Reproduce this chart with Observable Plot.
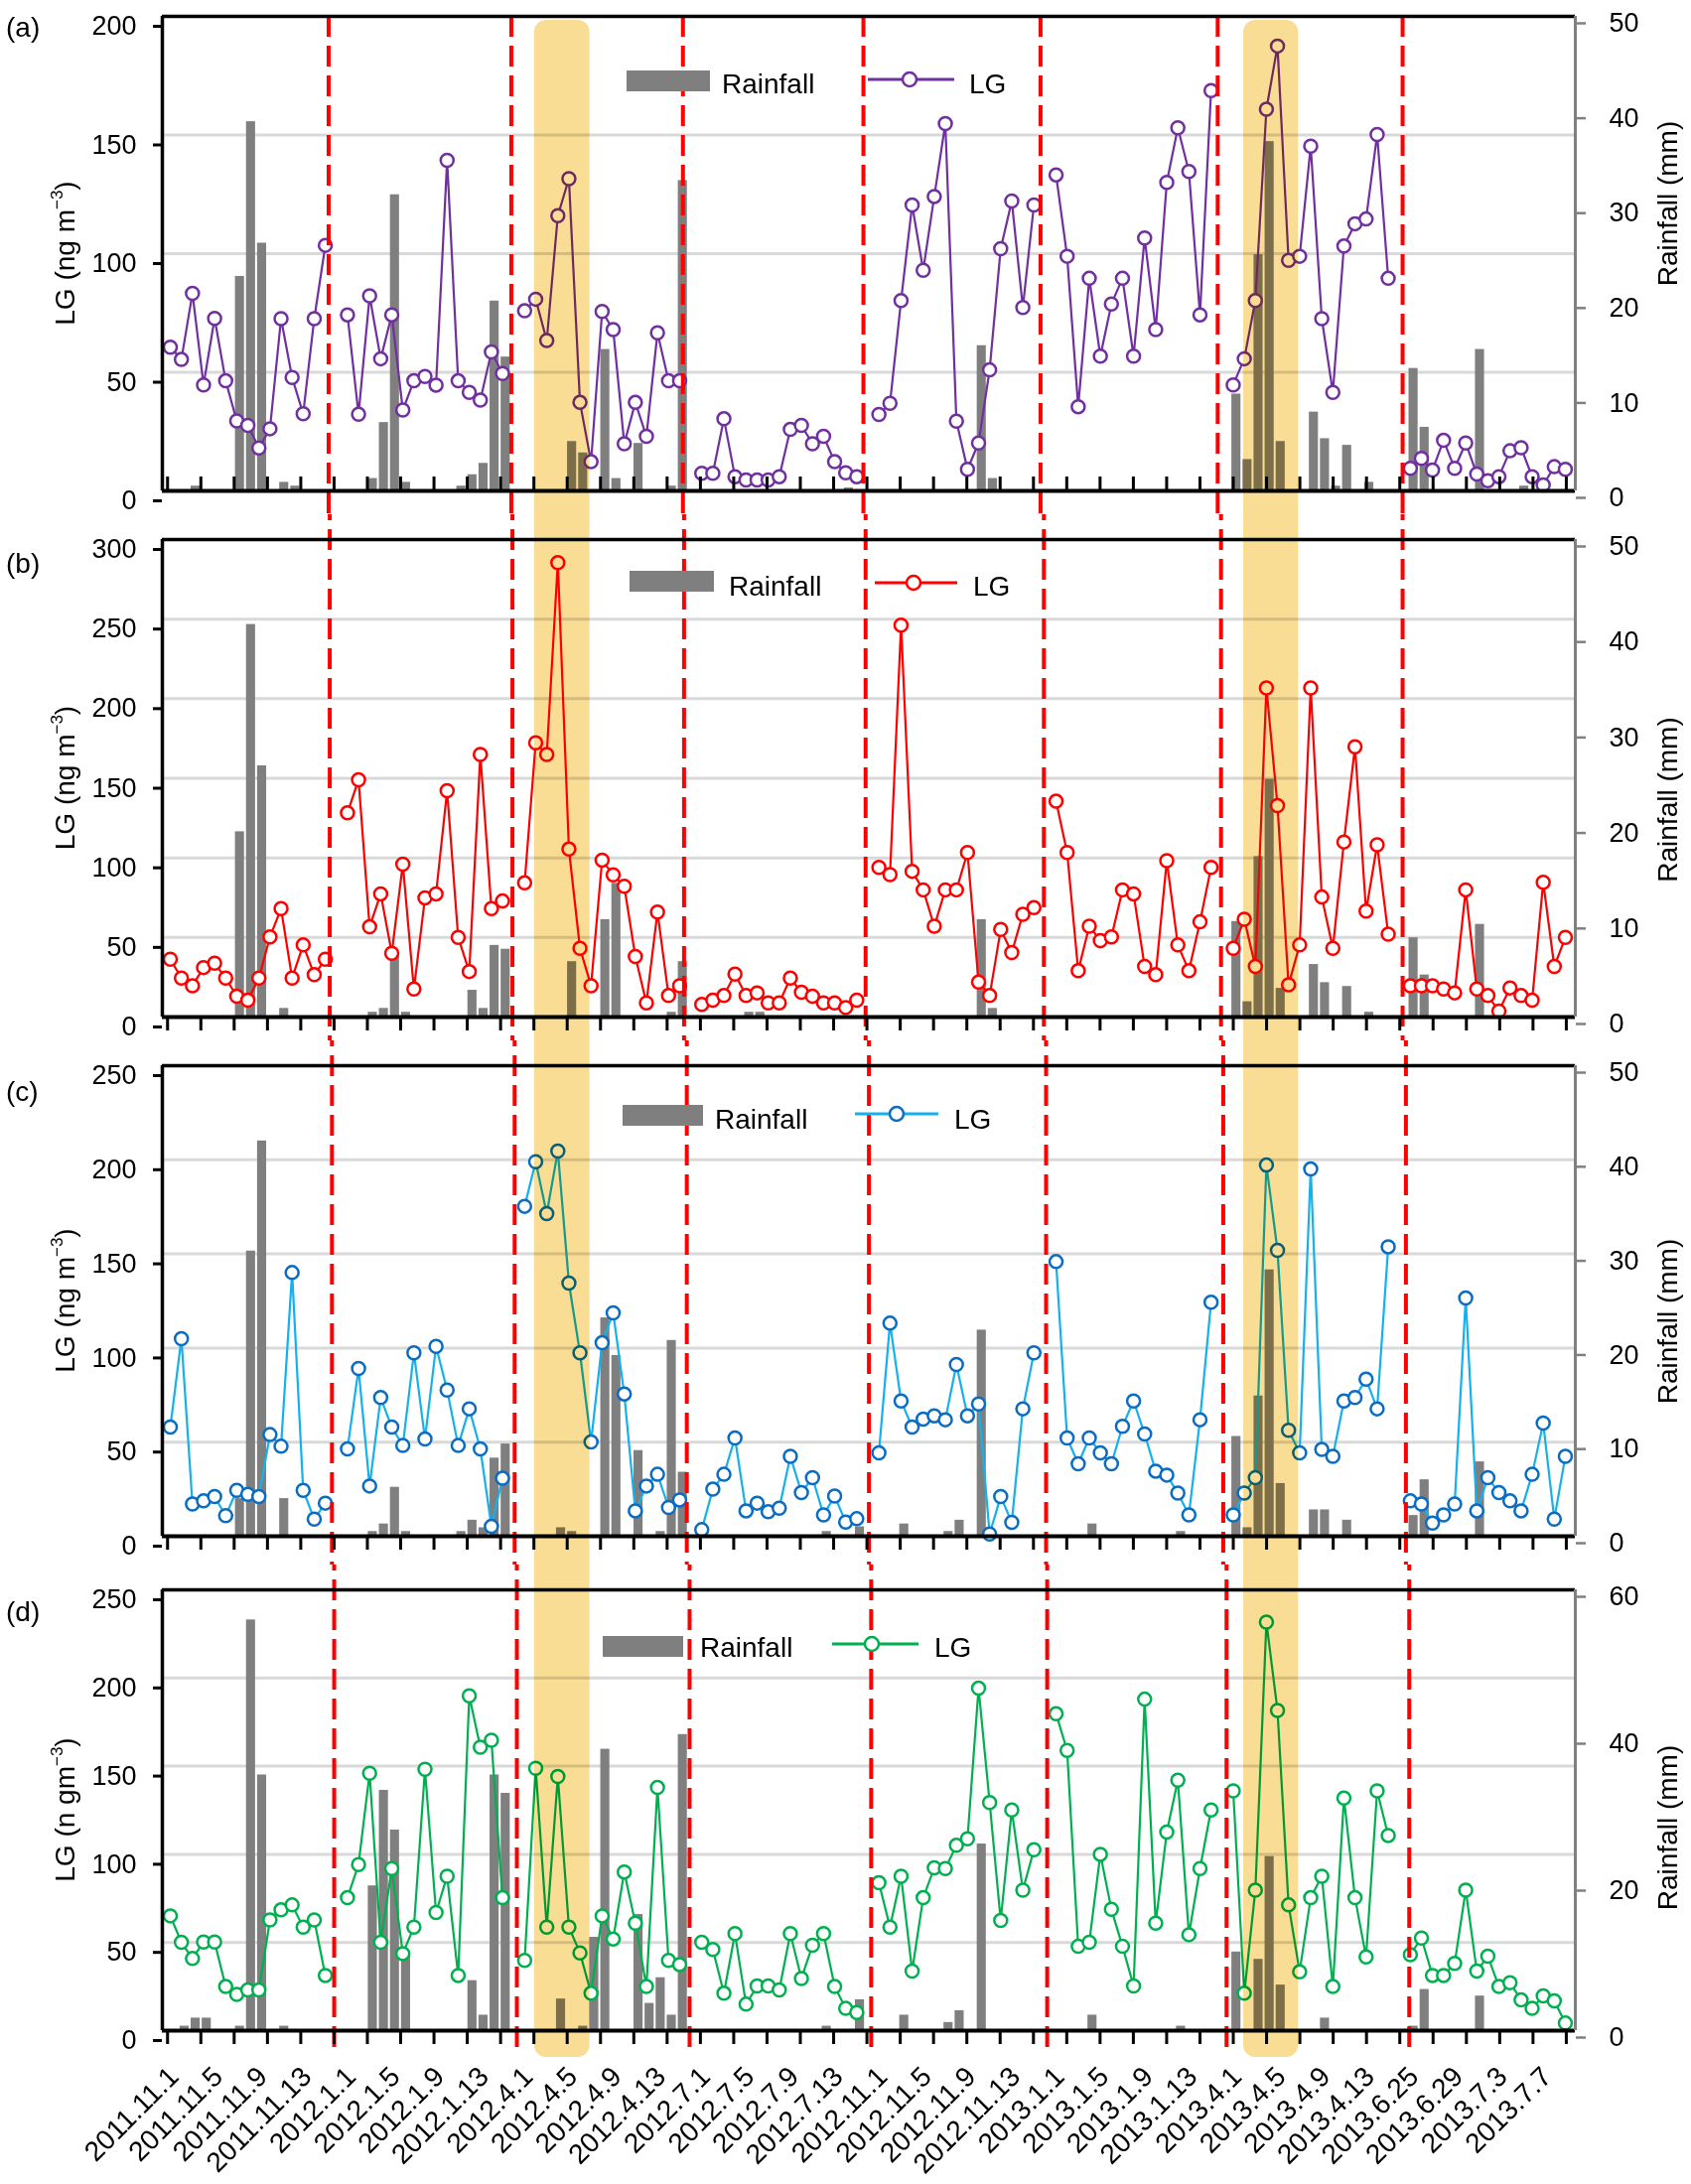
<!DOCTYPE html>
<html>
<head>
<meta charset="utf-8">
<script src="https://cdn.jsdelivr.net/npm/d3@7"></script>
<script src="https://cdn.jsdelivr.net/npm/@observablehq/plot@0.6"></script>
<style>
  html, body { margin: 0; padding: 0; background: #fff; overflow: hidden; }
  #fig { width: 1703px; }
  #fig svg { display: block; }
</style>
</head>
<body>
<div id="fig"></div>
<script>
const FONT = '"Liberation Sans", Arial, Helvetica, sans-serif';

// x-axis labels (every 4th sampling day)
const dateLabels = ["2011.11.1","2011.11.5","2011.11.9","2011.11.13","2012.1.1","2012.1.5","2012.1.9","2012.1.13",
  "2012.4.1","2012.4.5","2012.4.9","2012.4.13","2012.7.1","2012.7.5","2012.7.9","2012.7.13",
  "2012.11.1","2012.11.5","2012.11.9","2012.11.13","2013.1.1","2013.1.5","2013.1.9","2013.1.13",
  "2013.4.1","2013.4.5","2013.4.9","2013.4.13","2013.6.25","2013.6.29","2013.7.3","2013.7.7"];

// LG (8 sampling periods x 15 days)
const lgA = [
  [60.6,55.4,83.3,44.7,72.7,46.4,29.5,27.6,18.1,26.2,72.6,47.8,32.5,72.6,103.5],
  [74.2,32.3,82.2,55.7,74.2,34.1,46.4,48.2,44.6,139.3,46.4,41.5,38.3,58.6,49.5],
  [75.9,80.8,63.4,116.0,131.6,37.3,12.3,75.6,68.0,19.9,37.3,23.0,66.6,46.4,46.4],
  [7.4,7.4,30.4,6.0,4.6,4.6,4.6,6.0,25.9,27.6,19.9,23.0,12.3,7.6,6.0],
  [32.2,36.9,80.2,120.5,93.0,124.1,154.8,29.4,9.1,20.2,51.0,102.1,122.2,77.3,120.5],
  [133.2,98.9,35.5,89.6,56.8,78.8,89.6,56.8,106.6,68.0,130.0,153.0,134.6,74.2,168.7],
  [44.7,55.7,80.2,160.9,187.5,97.2,98.9,145.3,72.6,41.5,103.2,112.6,114.6,150.2,89.6],
  [9.5,13.7,8.8,21.3,9.5,20.2,7.1,4.3,6.0,16.9,18.2,6.0,2.5,10.2,9.1]
];
const lgB = [
  [36.3,24.5,19.7,31.1,33.8,24.5,13.1,10.6,24.5,50.4,68.1,24.5,45.3,26.6,36.3],
  [128.3,149.1,56.7,77.4,40.1,96.1,17.6,74.9,77.4,142.2,50.0,28.6,165.0,68.1,72.9],
  [84.3,172.3,165.0,285.5,105.5,43.2,19.7,98.6,89.3,82.2,38.0,8.9,66.0,13.5,19.7],
  [7.9,10.6,13.5,27.0,13.5,15.2,8.9,8.9,24.5,15.6,13.1,8.9,8.9,6.0,10.6],
  [94.0,89.5,246.2,91.6,79.9,57.1,79.9,79.9,103.4,22.0,13.5,55.0,40.5,64.6,68.7],
  [135.6,103.4,29.1,57.1,48.0,50.4,79.9,77.4,31.8,26.6,98.2,45.3,29.1,59.8,94.0],
  [43.2,61.4,31.8,206.8,132.9,20.3,45.3,206.8,75.4,43.2,110.0,169.8,66.6,108.2,52.1],
  [19.7,19.7,19.7,17.6,15.2,79.9,17.6,13.5,3.7,18.3,13.5,10.6,84.7,31.8,50.0]
];
const lgC = [
  [58.0,105.0,17.1,18.8,21.1,10.9,24.4,22.3,21.1,54.0,47.8,140.1,24.4,9.1,17.6],
  [46.4,89.1,26.7,73.7,58.0,48.2,97.4,51.7,100.9,77.7,48.2,67.7,46.4,5.3,30.8],
  [175.3,199.0,171.4,204.6,134.5,97.4,50.1,102.8,118.7,75.6,13.5,26.7,32.9,15.3,19.3],
  [3.5,25.0,32.9,52.2,13.5,17.6,13.0,14.9,42.5,23.2,31.1,11.3,21.4,7.5,9.3],
  [44.3,113.2,71.9,58.0,62.2,64.0,61.9,91.2,64.0,70.3,1.2,21.1,7.4,67.7,97.4],
  [145.9,52.2,38.5,52.2,44.3,38.5,58.4,71.9,54.3,34.6,32.5,22.9,11.3,61.9,124.3],
  [11.3,22.9,31.1,197.2,151.9,56.3,44.3,195.1,46.1,42.5,71.9,73.7,83.5,67.7,153.8],
  [18.8,17.1,7.0,11.3,17.1,126.6,13.5,31.1,23.2,18.8,13.5,32.9,60.1,9.1,42.5]
];
const lgD = [
  [65.1,50.1,40.9,50.3,50.3,25.0,20.6,23.1,23.1,62.8,68.5,71.3,58.7,62.8,31.3],
  [75.4,94.2,146.0,50.1,91.9,43.7,58.7,148.2,67.0,87.6,31.3,189.9,160.8,164.7,75.4],
  [39.8,148.8,58.7,144.1,58.7,44.1,21.2,65.1,52.0,90.0,61.0,25.0,137.9,39.8,37.5],
  [50.1,46.0,21.2,55.0,15.0,25.3,25.3,23.1,55.0,29.6,48.4,55.0,25.0,12.6,10.3],
  [83.9,58.7,87.6,33.8,75.4,92.3,91.9,105.1,108.8,194.2,129.4,62.5,125.1,79.7,102.6],
  [179.7,158.9,47.8,50.1,100.0,68.8,47.8,25.3,188.0,61.0,112.6,142.0,54.4,91.9,125.1],
  [136.0,21.2,79.7,231.7,181.6,71.3,33.4,75.4,87.6,25.0,131.9,75.4,41.8,136.0,110.7],
  [43.1,52.5,31.3,31.3,38.1,79.7,33.8,42.2,25.0,27.2,17.4,12.6,19.7,16.9,4.3]
];

// Rainfall (mm), same layout
const rainA = [
  [0,0,0.5,0,0,0,22.6,38.9,26.1,0,0.9,0.5,0,0,0],
  [0,0,1.3,7.2,31.2,0.9,0,0,0,0,0.5,1.7,2.9,20.0,14.1],
  [0,0,0,0,5.2,4.0,0,14.9,1.3,0,5.0,0,0,0.5,32.7],
  [0,0,0,0,0,0,0,0,0,0,0,0,0,0.3,0],
  [0,0,0,0,0,0,0,0,0,15.3,1.3,0,0,0,0],
  [0,0,0,0,0,0,0,0,0,0,0,0,0,0,0],
  [10.2,3.3,24.9,36.8,5.2,0,0,8.3,5.5,0.5,4.8,0,0.9,0,0],
  [12.9,6.7,0,0,0,0,14.9,0,0,0,0.5,0,0,0,0]
];
const rainB = [
  [0,0,0,0,0,0,19.4,41.1,26.3,0,0.9,0,0,0,0],
  [0,0,0.5,0.9,6.4,0.5,0,0,0,0,0,2.8,0.9,7.5,7.1],
  [0,0,0,0,5.8,0,0,10.2,14.0,0,0,0,0,0.5,5.8],
  [0,0,0,0,0.5,0.5,0,0,0,0,0,0,0,0,0],
  [0,0,0,0,0,0,0,0,0,10.2,0.9,0,0,0,0],
  [0,0,0,0,0,0,0,0,0,0,0,0,0,0,0],
  [10.0,1.6,16.8,24.9,3.0,0,0,5.5,3.6,0,3.2,0,0.5,0,0],
  [8.3,4.4,0,0,0,0,9.7,0,0,0,0,0,0,0,0]
];
const rainC = [
  [0,0,0,0,0,0,4.0,30.3,42.0,0,4.0,0,0,0,0],
  [0,0,0.5,1.3,5.2,0.5,0,0,0,0,0.5,1.7,0.9,8.3,9.8],
  [0,0,0,0.9,0.5,0,0,23.2,19.2,0,9.1,0,0.5,20.8,6.8],
  [0,0,0,0,0,0,0,0,0,0,0,0.5,0,0,1.0],
  [0,0,1.3,0,0,0,0.5,1.7,0,21.9,0,0,0,0,0],
  [0,0,0,1.3,0,0,0,0,0,0,0,0.5,0,0,0],
  [10.6,0.9,14.9,28.3,5.6,0,0,2.8,2.8,0,1.7,0,0,0,0],
  [2.2,6.0,0,0,0,0,7.9,0,0,0,0,0,0,0,0]
];
const rainD = [
  [0,0.6,1.7,1.7,0,0,0.6,55.9,34.8,0,0.6,0,0,0,0],
  [0,0,19.7,32.7,27.3,10.0,0,0,0,0,0,6.8,2.1,34.8,32.3],
  [0,0,0,4.3,0,0.6,12.7,38.3,0,0,15.8,3.7,7.2,2.1,40.3],
  [0,0,0,0,0,0,0,0,0,0,0,0.6,0,0,4.2],
  [0,0,2.1,0,0,0,1.1,2.7,0,25.4,0,0,0,0,0],
  [0,0,0,2.1,0,0,0,0,0,0,0,0.6,0,0,0],
  [10.7,0,9.7,23.7,6.2,0,0,0,1.7,0,0,0,0,0,0],
  [0.6,5.6,0,0,0,0,4.7,0,0,0,0,0,0,0,0]
];

// period separators (day-slot units, slightly slanted through the figure)
const sepA = [14.3,30.8,46.3,62.6,78.6,94.6,111.3];
const sepB = [14.4,30.9,46.4,62.8,78.9,94.9,111.3];
const sepC = [14.6,31.1,46.65,63.1,79.1,95.1,111.6];
const sepD = [14.8,31.3,46.9,63.3,79.2,95.4,111.9];
// highlighted events
const highlight = [{x1: 32.9, x2: 37.9}, {x1: 96.95, x2: 101.9}];

const XDOM = [-0.72, 126.9];
const xTickSlots = d3.range(43).map(k => -0.25 + 3.008 * k);

const panels = [
  {tag: "(a)", lg: lgA, rain: rainA, sep: sepA, lgMax: 200, rainMax: 50, lgTicks: [0,50,100,150,200], rainTicks: [0,10,20,30,40,50], grid: [50,100,150],
   line: "#7030a0", marker: "#7030a0", unit: "LG (ng m",
   height: 518, mt: 16, mb: 24, labelDy: 11, rtDy: -50, ticksInside: true,
   sepTop: 0, sepBottom: -40, bandTop: 4, bandBottom: -80,
   L: {sx: 631, sw: 84, sy: 71, tx: 727, ty: 84, lx1: 874, lx2: 961, ly: 80, mx: 916, lgx: 976}},
  {tag: "(b)", lg: lgB, rain: rainB, sep: sepB, lgMax: 300, rainMax: 50, lgTicks: [0,50,100,150,200,250,300], rainTicks: [0,10,20,30,40,50], grid: [50,100,150,200,250],
   line: "#ff0000", marker: "#ff0000", unit: "LG (ng m",
   height: 530, mt: 25, mb: 24, labelDy: 24, rtDy: 22, ticksInside: false,
   sepTop: -40, sepBottom: -40, bandTop: -80, bandBottom: -80,
   L: {sx: 634, sw: 85, sy: 57, tx: 734, ty: 72, lx1: 881, lx2: 964, ly: 69, mx: 920, lgx: 980}},
  {tag: "(c)", lg: lgC, rain: rainC, sep: sepC, lgMax: 250, rainMax: 50, lgTicks: [0,50,100,150,200,250], rainTicks: [0,10,20,30,40,50], grid: [50,100,150,200],
   line: "#14b1ec", marker: "#0a6cc2", unit: "LG (ng m",
   height: 528, mt: 25, mb: 29, labelDy: 26, rtDy: 21, ticksInside: false,
   sepTop: -40, sepBottom: -40, bandTop: -80, bandBottom: -80,
   L: {sx: 627, sw: 81, sy: 65, tx: 720, ty: 79, lx1: 861, lx2: 945, ly: 74, mx: 903, lgx: 961}},
  {tag: "(d)", lg: lgD, rain: rainD, sep: sepD, lgMax: 250, rainMax: 60, lgTicks: [0,50,100,150,200,250], rainTicks: [0,20,40,60], grid: [50,100,150,200],
   line: "#00b050", marker: "#00b050", unit: "LG (n gm",
   height: 624, mt: 25, mb: 155, labelDy: 22, rtDy: 18, ticksInside: false,
   sepTop: -40, sepBottom: -20, bandTop: -80, bandBottom: -27, xlabels: true,
   L: {sx: 607, sw: 81, sy: 72, tx: 705, ty: 83, lx1: 838, lx2: 925, ly: 80, mx: 878, lgx: 941}}
];

function build(cfg) {
  const k = cfg.lgMax / cfg.rainMax;
  const lg = cfg.lg.flatMap((row, p) => row.map((v, d) => ({x: p * 16 + d, v, p})));
  const rain = cfg.rain.flatMap((row, p) => row.map((v, d) => ({x: p * 16 + d, v}))).filter(d => d.v > 0);
  const plotH = cfg.height - cfg.mt - cfg.mb;
  const marks = [
    Plot.ruleY(cfg.grid, {stroke: "#d9d9d9", strokeWidth: 3}),
    Plot.rect(rain, {x1: d => d.x - 0.12, x2: d => d.x + 0.7, y1: 0, y2: d => d.v * k, fill: "#7f7f7f"}),
    Plot.line(lg, {x: "x", y: "v", z: "p", stroke: cfg.line, strokeWidth: 2.2}),
    Plot.dot(lg, {x: "x", y: "v", r: 6.5, fill: "white", stroke: cfg.marker, strokeWidth: 2.5}),
    Plot.ruleX(cfg.sep, {stroke: "#ff0000", strokeWidth: 4, strokeDasharray: "21,9",
      insetTop: cfg.sepTop, insetBottom: cfg.sepBottom, ariaLabel: "separator"}),
    Plot.rect(highlight, {x1: "x1", x2: "x2", insetTop: cfg.bandTop, insetBottom: cfg.bandBottom,
      rx: 12, fill: "#f9d47a", fillOpacity: 0.8, mixBlendMode: "multiply", ariaLabel: "band"}),
    Plot.ruleY([cfg.lgMax], {stroke: "black", strokeWidth: 3.5}),
    Plot.ruleY([0], {stroke: "black", strokeWidth: 4}),
    Plot.ruleX(xTickSlots, cfg.ticksInside
      ? {stroke: "black", strokeWidth: 3, insetTop: plotH - 14}
      : {stroke: "black", strokeWidth: 3, insetTop: plotH, insetBottom: -14}),
    Plot.ruleX([XDOM[1]], {stroke: "#808080", strokeWidth: 3}),
    Plot.ruleX([XDOM[0]], {stroke: "black", strokeWidth: 3.5}),
    Plot.axisY({anchor: "left", ticks: cfg.lgTicks, tickFormat: d => String(d), tickSize: 9, tickPadding: 17,
      fontSize: 27, dy: 10, strokeWidth: 3, stroke: "black", fill: "black", label: null}),
    Plot.axisY({anchor: "right", ticks: cfg.rainTicks.map(r => r * k), tickFormat: d => String(Math.round(d / k)),
      tickSize: 10, tickPadding: 24, fontSize: 27, dy: 7, stroke: "#808080", fill: "black", strokeWidth: 2.5, label: null})
  ];
  if (cfg.xlabels) {
    marks.push(Plot.text(dateLabels, {x: (d, i) => i * 4, text: d => d, frameAnchor: "bottom",
      rotate: -45, textAnchor: "end", fontSize: 28, dx: 10, dy: 48, fill: "black"}));
  }
  const svg = Plot.plot({
    width: 1703, height: cfg.height,
    marginLeft: 163, marginRight: 117, marginTop: cfg.mt, marginBottom: cfg.mb,
    x: {domain: XDOM, axis: null},
    y: {domain: [0, cfg.lgMax], axis: null},
    style: {fontFamily: FONT, background: "white", overflow: "hidden", color: "black"},
    marks
  });

  const bandG = svg.querySelector('g[aria-label="band"]');
  if (bandG) {
    bandG.style.mixBlendMode = "multiply";
    bandG.querySelectorAll("rect").forEach(r => { r.style.mixBlendMode = "multiply"; });
  }

  // legend (below the separators)
  const L = cfg.L;
  const leg = d3.create("svg:g").attr("font-family", FONT).attr("font-size", 28).attr("fill", "black")
    .attr("text-anchor", "start");
  leg.append("rect").attr("x", L.sx).attr("y", L.sy).attr("width", L.sw).attr("height", 21).attr("fill", "#7f7f7f");
  leg.append("text").attr("x", L.tx).attr("y", L.ty).attr("dy", "0.36em").text("Rainfall");
  leg.append("line").attr("x1", L.lx1).attr("x2", L.lx2).attr("y1", L.ly).attr("y2", L.ly)
    .attr("stroke", cfg.line).attr("stroke-width", 3);
  leg.append("circle").attr("cx", L.mx).attr("cy", L.ly).attr("r", 7).attr("fill", "white")
    .attr("stroke", cfg.marker).attr("stroke-width", 2.5);
  leg.append("text").attr("x", L.lgx).attr("y", L.ty).attr("dy", "0.36em").text("LG");
  svg.insertBefore(leg.node(), svg.querySelector('g[aria-label="separator"]'));

  // titles
  const cy = cfg.mt + plotH / 2;
  const t = d3.select(svg).append("g").attr("font-family", FONT).attr("font-size", 28).attr("fill", "black");
  t.append("text").attr("x", 6).attr("y", cfg.mt + cfg.labelDy).attr("dy", "0.36em")
    .attr("text-anchor", "start").text(cfg.tag);
  const lt = t.append("text").attr("transform", `translate(65,${cy}) rotate(-90)`).attr("text-anchor", "middle");
  lt.append("tspan").attr("dy", 10).text(cfg.unit);
  lt.append("tspan").attr("font-size", 17).attr("dy", -12).text("\u22123");
  lt.append("tspan").attr("dy", 12).text(")");
  t.append("text").attr("transform", `translate(1679,${cy + cfg.rtDy}) rotate(-90)`).attr("text-anchor", "middle")
    .attr("dy", 10).text("Rainfall (mm)");
  return svg;
}

const fig = document.getElementById("fig");
panels.forEach(cfg => fig.appendChild(build(cfg)));
</script>
</body>
</html>
